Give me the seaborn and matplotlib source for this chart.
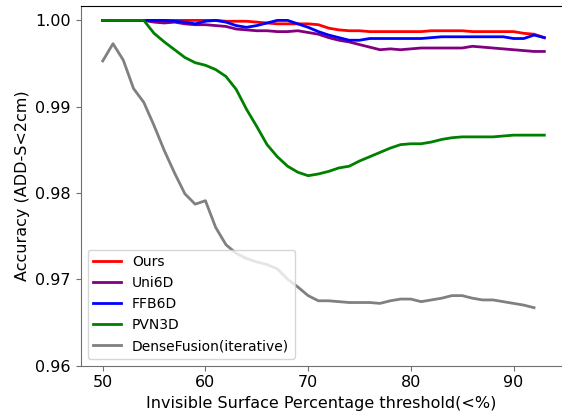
import matplotlib
matplotlib.use("Agg")
import matplotlib.pyplot as plt
import seaborn as sns
import numpy as np

# thresholds (%)
thresholds = list(range(50, 94))
thresholds_df = list(range(50, 93))

ours = [1.0000] * 12 + [
    0.9999, 0.9999, 0.9999, 0.9998, 0.9997, 0.9996, 0.9996, 0.9996, 0.9996, 0.9995,
    0.9991, 0.9989, 0.9988, 0.9988, 0.9987, 0.9987, 0.9987, 0.9987, 0.9987, 0.9987,
    0.9988, 0.9988, 0.9988, 0.9988, 0.9987, 0.9987, 0.9987, 0.9987, 0.9987, 0.9985,
    0.9984, 0.9980]

uni6d = [1.0000] * 5 + [
    0.9998, 0.9997, 0.9998, 0.9996, 0.9995, 0.9995, 0.9994, 0.9993, 0.9990, 0.9989,
    0.9988, 0.9988, 0.9987, 0.9987, 0.9988, 0.9986, 0.9984, 0.9980, 0.9977, 0.9975,
    0.9972, 0.9969, 0.9966, 0.9967, 0.9966, 0.9967, 0.9968, 0.9968, 0.9968, 0.9968,
    0.9968, 0.9970, 0.9969, 0.9968, 0.9967, 0.9966, 0.9965, 0.9964, 0.9964]

ffb6d = [1.0000] * 7 + [
    0.9999, 0.9998, 0.9996, 0.9999, 1.0000, 0.9998, 0.9994, 0.9992, 0.9994, 0.9997,
    1.0000, 1.0000, 0.9996, 0.9992, 0.9987, 0.9983, 0.9980, 0.9977, 0.9977, 0.9979,
    0.9979, 0.9979, 0.9979, 0.9979, 0.9979, 0.9980, 0.9981, 0.9981, 0.9981, 0.9981,
    0.9981, 0.9981, 0.9981, 0.9979, 0.9979, 0.9983, 0.9980]

pvn3d = [1.0000] * 5 + [
    0.9985, 0.9975, 0.9966, 0.9957, 0.9951, 0.9948, 0.9943, 0.9935, 0.9920, 0.9897,
    0.9877, 0.9856, 0.9842, 0.9831, 0.9824, 0.9820, 0.9822, 0.9825, 0.9829, 0.9831,
    0.9837, 0.9842, 0.9847, 0.9852, 0.9856, 0.9857, 0.9857, 0.9859, 0.9862, 0.9864,
    0.9865, 0.9865, 0.9865, 0.9865, 0.9866, 0.9867, 0.9867, 0.9867, 0.9867]

densefusion = [
    0.9953, 0.9973, 0.9954, 0.9921, 0.9905, 0.9878, 0.9849, 0.9823, 0.9799, 0.9787,
    0.9791, 0.9760, 0.9740, 0.9730, 0.9724, 0.9720, 0.9717, 0.9712, 0.9700, 0.9691,
    0.9681, 0.9675, 0.9675, 0.9674, 0.9673, 0.9673, 0.9673, 0.9672, 0.9675, 0.9677,
    0.9677, 0.9674, 0.9676, 0.9678, 0.9681, 0.9681, 0.9678, 0.9676, 0.9676, 0.9674,
    0.9672, 0.9670, 0.9667]

plt.rcParams['font.family'] = ['DejaVu Sans']
plt.rcParams['font.size'] = 11.5

fig = plt.figure(figsize=(5.62, 4.13), dpi=100)
# the original is cropped on the right: axes reach the edge, no right spine
ax = fig.add_axes([0.1435, 0.115, 0.8565, 0.8705])

lw = 2.0
sns.lineplot(x=thresholds, y=ours, color='red', lw=lw, label='Ours', ax=ax)
sns.lineplot(x=thresholds, y=uni6d, color='purple', lw=lw, label='Uni6D', ax=ax)
sns.lineplot(x=thresholds, y=ffb6d, color='blue', lw=lw, label='FFB6D', ax=ax)
sns.lineplot(x=thresholds, y=pvn3d, color='green', lw=lw, label='PVN3D', ax=ax)
sns.lineplot(x=thresholds_df, y=densefusion, color='gray', lw=lw,
             label='DenseFusion(iterative)', ax=ax)

ax.set_xlim(47.85, 94.72)
ax.set_ylim(0.96, 1.00167)
ax.set_yticks([0.96, 0.97, 0.98, 0.99, 1.00])
ax.set_yticklabels(['0.96', '0.97', '0.98', '0.99', '1.00'])
ax.set_xticks([50, 60, 70, 80, 90])
ax.set_xlabel('Invisible Surface Percentage threshold(<%)', fontsize=11.5)
ax.set_ylabel('Accuracy (ADD-S<2cm)', fontsize=11.5)

ax.spines['right'].set_visible(False)
for side in ['left', 'bottom']:
    ax.spines[side].set_color('#707070')
ax.tick_params(axis='both', colors='#707070', labelcolor='black', labelsize=11.5)

ax.legend(loc='lower left', fontsize=10)

fig.savefig('out.png', dpi=100)
